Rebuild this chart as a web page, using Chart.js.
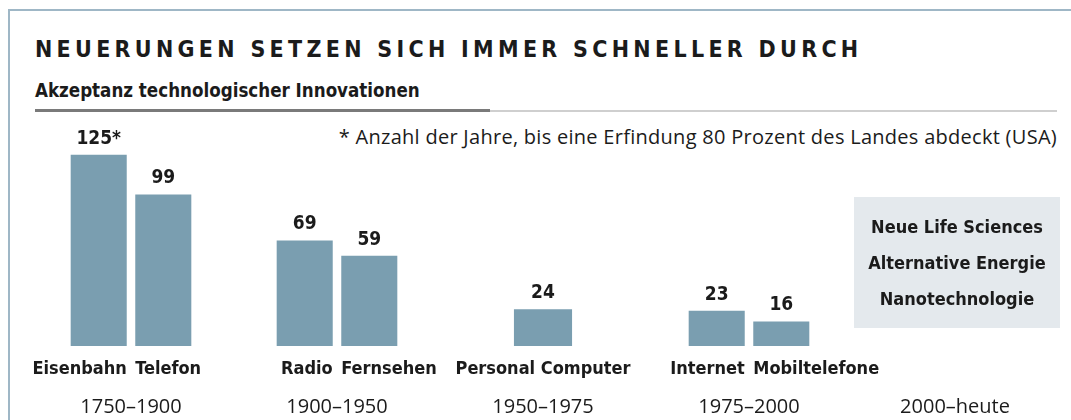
<!DOCTYPE html>
<html>
<head>
<meta charset="utf-8">
<script src="https://cdn.jsdelivr.net/npm/chart.js@4"></script>
<style>
  html, body { margin: 0; padding: 0; background: #fff; }
  #wrap { position: relative; width: 1071px; height: 420px; overflow: hidden; }
  #frame { position: absolute; left: 8px; top: 9px; width: 1100px; height: 500px;
           border-left: 2px solid #9fb7c6; border-top: 2px solid #9fb7c6; }
  #title { position: absolute; left: 35px; top: 36px; font: bold 23px "DejaVu Sans Condensed", "Liberation Sans Narrow", sans-serif;
           letter-spacing: 4.3px; color: #1b1b1b; white-space: nowrap; line-height: 27px; }
  #sub { position: absolute; left: 35px; top: 79px; font: bold 18.6px "DejaVu Sans Condensed", "Liberation Sans Narrow", sans-serif;
         color: #1b1b1b; white-space: nowrap; line-height: 24px; }
  #ruleDark { position: absolute; left: 35px; top: 109px; width: 455px; height: 3px; background: #7a7a7a; }
  #ruleLight { position: absolute; left: 490px; top: 110px; width: 567px; height: 2px; background: #cfcfcf; }
  #note { position: absolute; right: 14px; top: 123px; font: 20px "Open Sans", sans-serif; letter-spacing: 0.28px;
          color: #1b1b1b; white-space: nowrap; line-height: 28px; }
  canvas { position: absolute; left: 0; top: 0; }
</style>
</head>
<body>
<div id="wrap">
  <div id="frame"></div>
  <div id="title">NEUERUNGEN SETZEN SICH IMMER SCHNELLER DURCH</div>
  <div id="sub">Akzeptanz technologischer Innovationen</div>
  <div id="ruleDark"></div>
  <div id="ruleLight"></div>
  <div id="note">* Anzahl der Jahre, bis eine Erfindung 80 Prozent des Landes abdeckt (USA)</div>
  <canvas id="chart" width="1071" height="420"></canvas>
</div>
<script>
// Zeiträume (Kategorien)
var periods = ["1750–1900", "1900–1950", "1950–1975", "1975–2000", "2000–heute"];
// erste Erfindung je Zeitraum
var firstNames = ["Eisenbahn", "Radio", null, "Internet", null];
var firstValues = [125, 69, null, 23, null];
// zweite Erfindung je Zeitraum
var secondNames = ["Telefon", "Fernsehen", null, "Mobiltelefone", null];
var secondValues = [99, 59, null, 16, null];
// einzelne Erfindung
var soloNames = [null, null, "Personal Computer", null, null];
var soloValues = [null, null, 24, null, null];
// Zukunftsthemen (2000–heute)
var futureTopics = ["Neue Life Sciences", "Alternative Energie", "Nanotechnologie"];
var footnoteMark = "*"; // hinter dem ersten Wert

var barColor = "#7a9eb0";
var boldFont = '"DejaVu Sans Condensed", "Liberation Sans Narrow", sans-serif';
var textColor = "#1b1b1b";

var labelPlugin = {
  id: "labels",
  afterDatasetsDraw: function(chart) {
    var ctx = chart.ctx;
    var xs = chart.scales.x;
    var area = chart.chartArea;
    var names = [firstNames, secondNames, soloNames];
    var aligns = ["right", "left", "center"];
    ctx.save();
    ctx.fillStyle = textColor;
    ctx.textBaseline = "middle";
    chart.data.datasets.forEach(function(ds, di) {
      var meta = chart.getDatasetMeta(di);
      meta.data.forEach(function(el, i) {
        if (ds.data[i] == null) return;
        // Wert über dem Balken
        ctx.font = "bold 19px " + boldFont;
        ctx.textAlign = "center";
        var txt = String(ds.data[i]);
        if (di === 0 && i === 0) txt += footnoteMark;
        ctx.fillText(txt, el.x, el.y - 16);
        // Name unter dem Balken
        ctx.font = "bold 18px " + boldFont;
        var a = aligns[di];
        ctx.textAlign = a;
        var nx = a === "right" ? el.x + el.width / 2 : a === "left" ? el.x - el.width / 2 : el.x;
        ctx.fillText(names[di][i], nx, area.bottom + 23);
      });
    });
    // Zeiträume
    ctx.font = '20px "Open Sans", sans-serif';
    ctx.textAlign = "center";
    periods.forEach(function(p, i) {
      ctx.fillText(p, xs.getPixelForValue(i), area.bottom + 61);
    });
    // Kasten für die Zukunft
    var cx = xs.getPixelForValue(periods.length - 1) + 2;
    var bw = 206;
    ctx.fillStyle = "#e4e9ed";
    ctx.fillRect(cx - bw / 2, area.bottom - 149, bw, 131);
    ctx.fillStyle = textColor;
    ctx.font = "bold 18px " + boldFont;
    futureTopics.forEach(function(t, k) {
      ctx.fillText(t, cx, area.bottom - 118 + k * 36);
    });
    ctx.restore();
  }
};

new Chart(document.getElementById("chart").getContext("2d"), {
  type: "bar",
  data: {
    labels: periods,
    datasets: [{
      label: "erste",
      data: firstValues,
      backgroundColor: barColor,
      barPercentage: 0.868,
      categoryPercentage: 0.627
    }, {
      label: "zweite",
      data: secondValues,
      backgroundColor: barColor,
      barPercentage: 0.868,
      categoryPercentage: 0.627
    }, {
      label: "einzeln",
      data: soloValues,
      backgroundColor: barColor,
      barPercentage: 0.45,
      categoryPercentage: 0.627
    }]
  },
  options: {
    responsive: false,
    animation: false,
    skipNull: true,
    layout: { padding: { left: 28, right: 13, top: 116.5, bottom: 74 } },
    plugins: { legend: { display: false }, tooltip: { enabled: false } },
    scales: {
      x: { display: false },
      y: { display: false, min: 0, max: 150 }
    }
  },
  plugins: [labelPlugin]
});
</script>
</body>
</html>
